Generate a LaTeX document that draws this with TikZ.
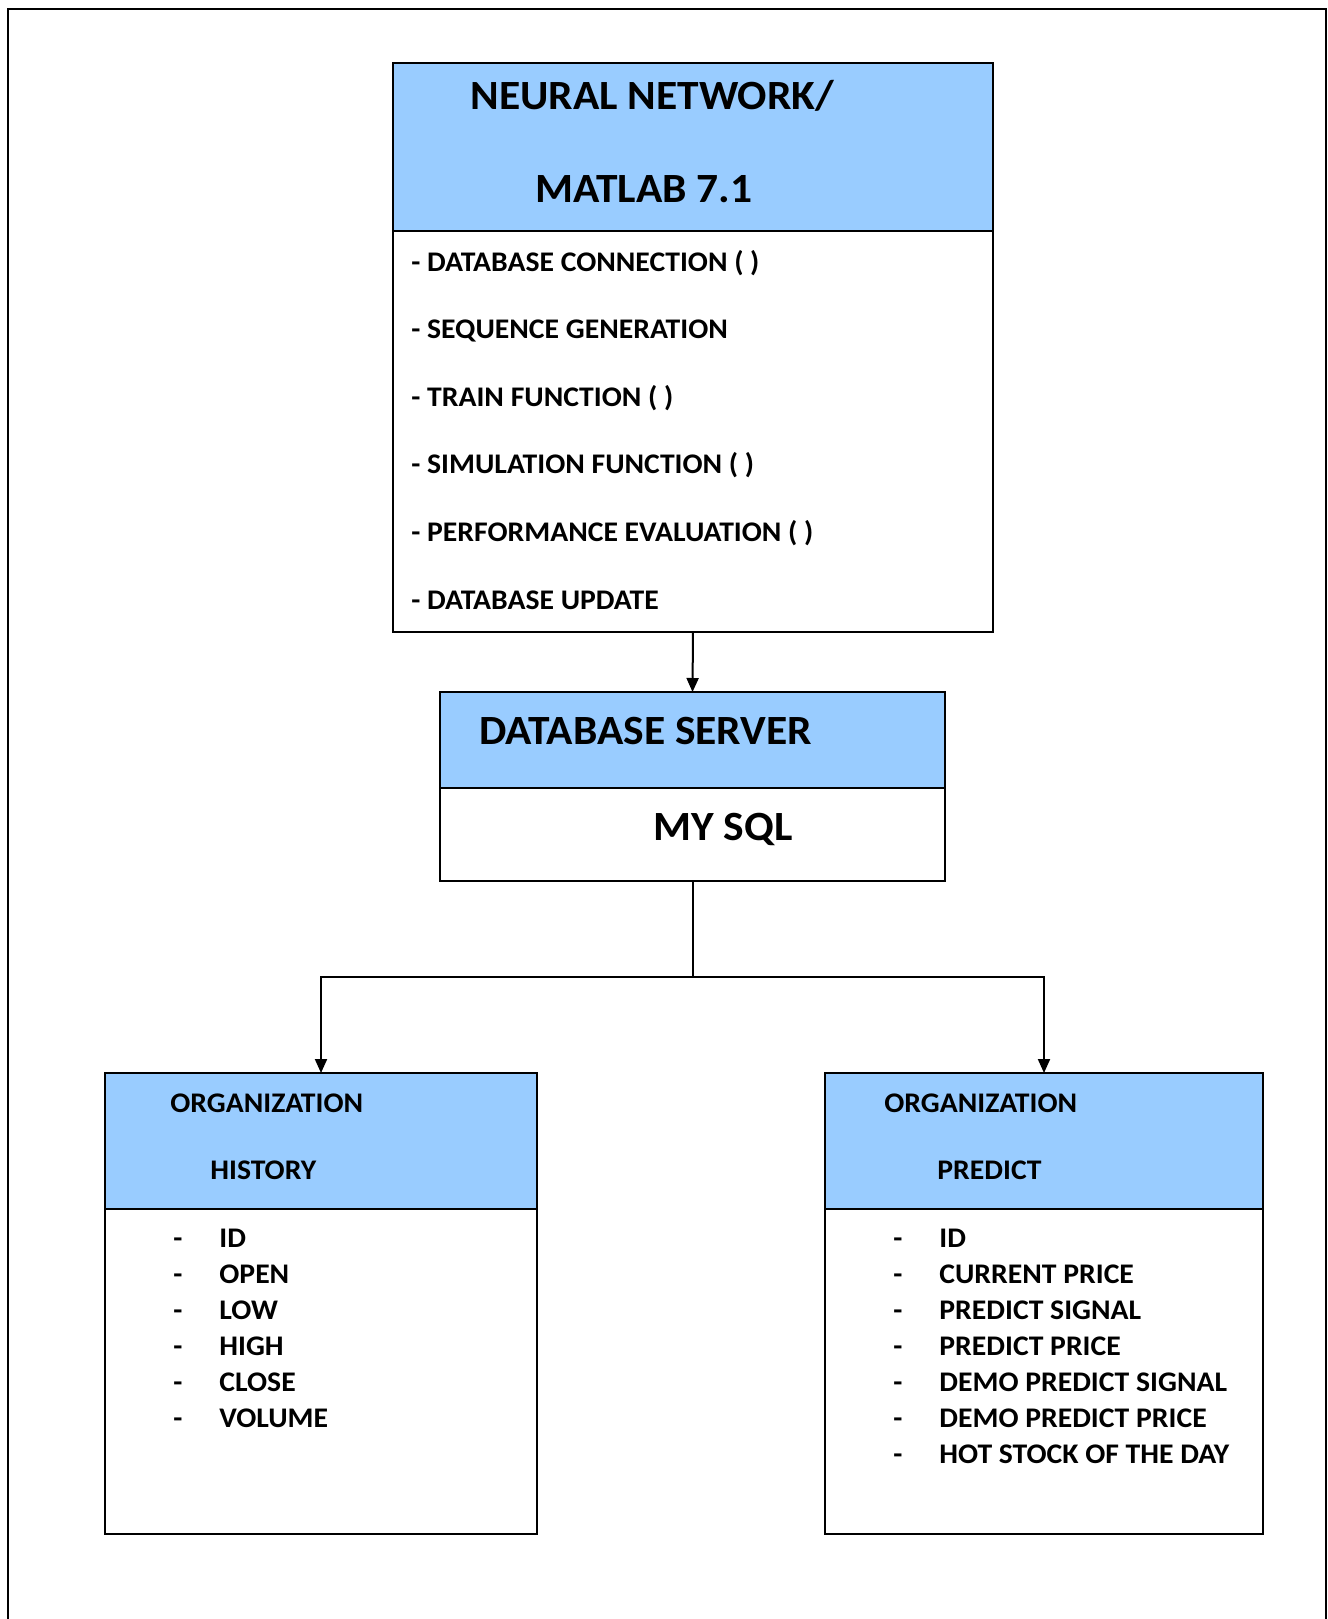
\documentclass[tikz,border=0pt]{standalone}
\usepackage{fontspec}
\setmainfont{Carlito}[FakeStretch=1.045]
\usepackage{tikz}
\usetikzlibrary{arrows.meta}
\definecolor{headblue}{HTML}{99CCFF}
\tikzset{
  headbox/.style={shape=rectangle,draw=black,fill=headblue,line width=1pt,inner sep=0pt,outer sep=0pt},
  bodybox/.style={shape=rectangle,draw=black,fill=white,line width=1pt,inner sep=0pt,outer sep=0pt},
  bigtext/.style={anchor=base west,inner sep=0pt,font=\bfseries\fontsize{20.8}{24}\selectfont},
  smalltext/.style={anchor=base west,inner sep=0pt,font=\bfseries\fontsize{14.2}{17}\selectfont},
  link/.style={line width=1pt,-{Triangle[length=7pt,width=6pt]}}
}

\begin{document}
\begin{tikzpicture}[x=0.5pt,y=-0.5pt]
\useasboundingbox (0,0) rectangle (1328,1619);
\draw[line width=1pt] (7.5,9) rectangle (1326,1660);
% neural network box
\node[headbox,minimum width=300pt,minimum height=84pt] (nnhead) at (693,147) {};
\node[bodybox,minimum width=300pt,minimum height=200.5pt] (nnbody) at (693,431.5) {};
\node[bigtext] (nn1) at (470,109) {NEURAL NETWORK/};
\node[bigtext] (nn2) at (535,202) {MATLAB 7.1};
\node[smalltext] (f1) at (411,271) {- DATABASE CONNECTION ( )};
\node[smalltext] (f2) at (411,338.6) {- SEQUENCE GENERATION};
\node[smalltext] (f3) at (411,406.2) {- TRAIN FUNCTION ( )};
\node[smalltext] (f4) at (411,473.8) {- SIMULATION FUNCTION ( )};
\node[smalltext] (f5) at (411,541.4) {- PERFORMANCE EVALUATION ( )};
\node[smalltext] (f6) at (411,609) {- DATABASE UPDATE};
% database server box
\node[headbox,minimum width=252.5pt,minimum height=48pt] (dbhead) at (692.5,740) {};
\node[bodybox,minimum width=252.5pt,minimum height=46.5pt] (dbbody) at (692.5,834.5) {};
\node[bigtext] (db1) at (479,744) {DATABASE SERVER};
\node[bigtext] (db2) at (653,840) {MY SQL};
% history box
\node[headbox,minimum width=216pt,minimum height=68pt] (hihead) at (321,1141) {};
\node[bodybox,minimum width=216pt,minimum height=162.5pt] (hibody) at (321,1371.5) {};
\node[smalltext] (hi1) at (170,1112) {ORGANIZATION};
\node[smalltext] (hi2) at (210,1179) {HISTORY};
\foreach \t [count=\i from 0] in {ID,OPEN,LOW,HIGH,CLOSE,VOLUME}{
  \node[smalltext] (hid\i) at (173,1247.3+36*\i) {-};
  \node[smalltext] (hit\i) at (219,1247.3+36*\i) {\t};
}
% predict box
\node[headbox,minimum width=219pt,minimum height=68pt] (prhead) at (1044,1141) {};
\node[bodybox,minimum width=219pt,minimum height=162.5pt] (prbody) at (1044,1371.5) {};
\node[smalltext] (pr1) at (884,1112) {ORGANIZATION};
\node[smalltext] (pr2) at (937,1179) {PREDICT};
\foreach \t [count=\i from 0] in {ID,CURRENT PRICE,PREDICT SIGNAL,PREDICT PRICE,DEMO PREDICT SIGNAL,DEMO PREDICT PRICE,HOT STOCK OF THE DAY}{
  \node[smalltext] (prd\i) at (893,1247.3+36*\i) {-};
  \node[smalltext] (prt\i) at (939,1247.3+36*\i) {\t};
}
% connectors
\coordinate (fork) at (692.5,977);
\path [link] (nnbody.south) edge (dbhead.north);
\draw [line width=1pt] (dbbody.south) -- (fork);
\draw [link] (fork) -| (hihead.north);
\draw [link] (fork) -| (prhead.north);
\end{tikzpicture}
\end{document}
